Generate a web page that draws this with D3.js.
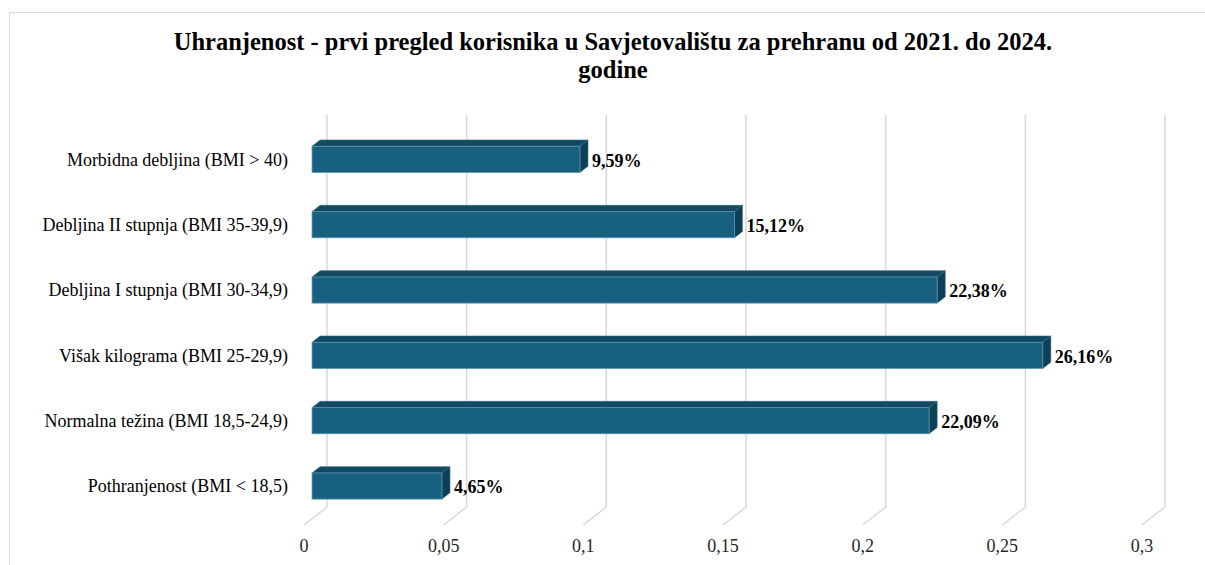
<!DOCTYPE html>
<html><head><meta charset="utf-8">
<script src="https://cdn.jsdelivr.net/npm/d3@7"></script>
<style>body{margin:0;background:#fff;}svg{display:block;}</style>
</head><body>
<svg id="c" width="1205" height="565"></svg>
<script>
const categories = ["Morbidna debljina (BMI > 40)","Debljina II stupnja (BMI 35-39,9)","Debljina I stupnja (BMI 30-34,9)","Višak kilograma (BMI 25-29,9)","Normalna težina (BMI 18,5-24,9)","Pothranjenost (BMI < 18,5)"];
const values = [0.0959,0.1512,0.2238,0.2616,0.2209,0.0465];
const valueLabels = ["9,59%","15,12%","22,38%","26,16%","22,09%","4,65%"];
const ticks = [0,0.05,0.1,0.15,0.2,0.25,0.3];
const tickLabels = ["0","0,05","0,1","0,15","0,2","0,25","0,3"];
const titleLines = ["Uhranjenost - prvi pregled korisnika u Savjetovalištu za prehranu od 2021. do 2024.","godine"];

const svg = d3.select("#c");
const font = "'Liberation Serif','Times New Roman',serif";
svg.append("rect").attr("x",9.5).attr("y",12.5).attr("width",1250).attr("height",600)
  .attr("fill","#fff").attr("stroke","#d9d9d9").attr("stroke-width",1);

const x = d3.scaleLinear().domain([0,0.3]).range([304,1142]);
const y = d3.scaleBand().domain(categories).range([133,525]).paddingInner(0.6).paddingOuter(0.3);
const DX = 23, DY = -18; // depth vector
const f0 = 0.35, f1 = 0.7;

// gridlines
const g = svg.append("g");
ticks.forEach(t => {
  const xf = x(t);
  g.append("path").attr("d", `M${xf+DX},${133+DY} L${xf+DX},${525+DY} L${xf},525`)
    .attr("fill","none").attr("stroke","#d9d9d9").attr("stroke-width",1.5);
});

// tick labels
svg.append("g").selectAll("text").data(ticks).join("text")
  .attr("x", d=>x(d)).attr("y",552).attr("text-anchor","middle")
  .attr("font-family",font).attr("font-size",18).attr("fill","#262626")
  .text((d,i)=>tickLabels[i]);

// bars
const bars = svg.append("g");
categories.forEach((c,i) => {
  const v = values[i];
  const x0 = x(0)+f0*DX, x1 = x(v)+f0*DX;
  const yt = y(c)+f0*DY, yb = y(c)+y.bandwidth()+f0*DY;
  const ox = (f1-f0)*DX, oy = (f1-f0)*DY;
  // top
  bars.append("path").attr("d",`M${x0},${yt} L${x0+ox},${yt+oy} L${x1+ox},${yt+oy} L${x1},${yt} Z`)
    .attr("fill","#134a62").attr("stroke","#2c6a86").attr("stroke-width",0.6);
  // side
  bars.append("path").attr("d",`M${x1},${yt} L${x1+ox},${yt+oy} L${x1+ox},${yb+oy} L${x1},${yb} Z`)
    .attr("fill","#0f3f55").attr("stroke","#2c6a86").attr("stroke-width",0.6);
  // front
  bars.append("rect").attr("x",x0).attr("y",yt).attr("width",x1-x0).attr("height",yb-yt)
    .attr("fill","#176080").attr("stroke","#5a93ad").attr("stroke-width",0.8);
  // value label
  svg.append("text").attr("x",x1+ox+4).attr("y",(yt+yb)/2+1).attr("dy","0.35em")
    .attr("font-family",font).attr("font-size",18).attr("font-weight","bold").attr("fill","#000")
    .text(valueLabels[i]);
  // category label
  svg.append("text").attr("x",288).attr("y",(yt+yb)/2).attr("dy","0.35em").attr("text-anchor","end")
    .attr("font-family",font).attr("font-size",18).attr("fill","#000")
    .text(c);
});

// title
svg.append("g").selectAll("text").data(titleLines).join("text")
  .attr("x",613).attr("y",(d,i)=>50+i*28).attr("text-anchor","middle")
  .attr("font-family",font).attr("font-size",24.5).attr("font-weight","bold").attr("fill","#000")
  .text(d=>d);
</script>
</body></html>
